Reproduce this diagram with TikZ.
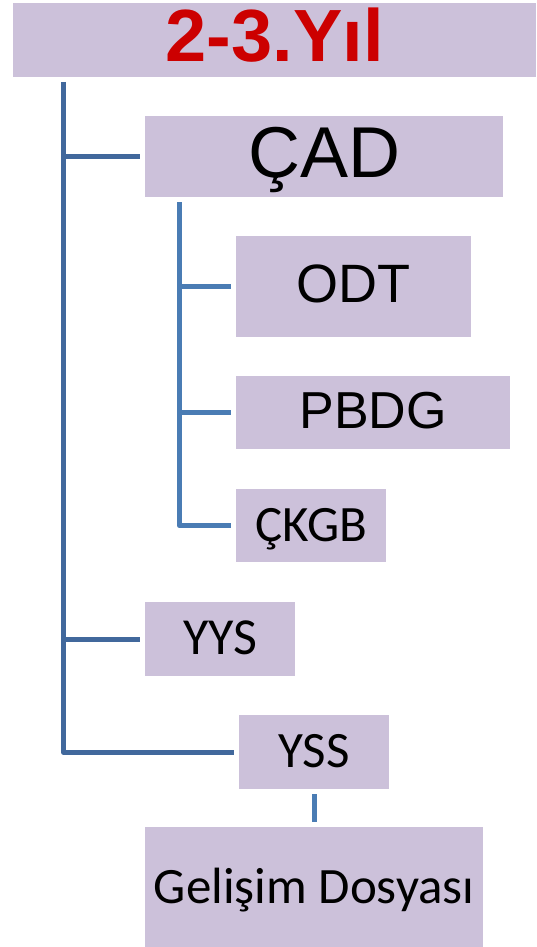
\documentclass[tikz,border=0pt]{standalone}
\usepackage{fontspec}
\setmainfont{Liberation Sans}
\newfontfamily\calibrifont{Carlito}
\definecolor{boxlilac}{RGB}{204,193,218}
\definecolor{yearred}{RGB}{204,0,0}
\definecolor{linedark}{RGB}{65,104,156}
\definecolor{linelight}{RGB}{74,124,180}

\begin{document}
\begin{tikzpicture}[x=1pt, y=-1pt,
    box/.style={rectangle, fill=boxlilac, inner sep=0pt, anchor=north west, align=center},
    mainline/.style={draw=linedark, line width=5pt, line join=round},
    subline/.style={draw=linelight, line width=5pt, line join=round}]
    \useasboundingbox (0,0) rectangle (536,947);

    % Title
    \node[box, minimum width=523pt, minimum height=74pt, text height=54pt, text depth=12pt,
          font=\fontsize{74}{80}\selectfont\bfseries, text=yearred] (year) at (13,3) {2-3.Yıl};

    % First level
    \node[box, minimum width=358pt, minimum height=81pt, text height=52pt, text depth=11pt,
          font=\fontsize{72}{80}\selectfont] (cad) at (145,116) {ÇAD};
    \node[box, minimum width=150pt, minimum height=74pt, text height=34pt, text depth=4pt,
          font=\calibrifont\fontsize{52}{60}\selectfont] (yys) at (145,602) {YYS};
    \node[box, minimum width=150pt, minimum height=74pt, text height=33pt, text depth=3pt,
          font=\calibrifont\fontsize{51}{60}\selectfont] (yss) at (239,715) {YSS};

    % Second level
    \node[box, minimum width=235pt, minimum height=101pt, text height=39pt, text depth=8pt,
          font=\fontsize{54}{60}\selectfont] (odt) at (236,236) {ODT};
    \node[box, minimum width=274pt, minimum height=73pt, text height=37pt, text depth=6pt,
          font=\fontsize{52}{60}\selectfont] (pbdg) at (236,376) {PBDG};
    \node[box, minimum width=150pt, minimum height=73pt, text height=33pt, text depth=2pt,
          font=\calibrifont\fontsize{51}{60}\selectfont] (ckgb) at (236,489) {ÇKGB};
    \node[box, minimum width=338pt, minimum height=120pt, text height=33pt, text depth=1pt,
          font=\calibrifont\fontsize{51}{60}\selectfont] (dosya) at (145,827) {Gelişim Dosyası};

    % Connections
    \coordinate (maintop) at (63.5,82);
    \coordinate (subtop) at (179.5,202);
    \draw[mainline] (maintop) |- ([xshift=-5pt]yss.west);
    \foreach \n in {cad,yys} {
        \draw[mainline, shorten >=5pt] (maintop |- \n.west) -- (\n.west);
    }
    \draw[subline] (subtop) |- ([xshift=-5pt]ckgb.west);
    \foreach \n in {odt,pbdg} {
        \draw[subline, shorten >=5pt] (subtop |- \n.west) -- (\n.west);
    }
    \draw[subline, shorten <=5pt, shorten >=5pt] (yss.south) -- (dosya.north -| yss.south);
\end{tikzpicture}
\end{document}
